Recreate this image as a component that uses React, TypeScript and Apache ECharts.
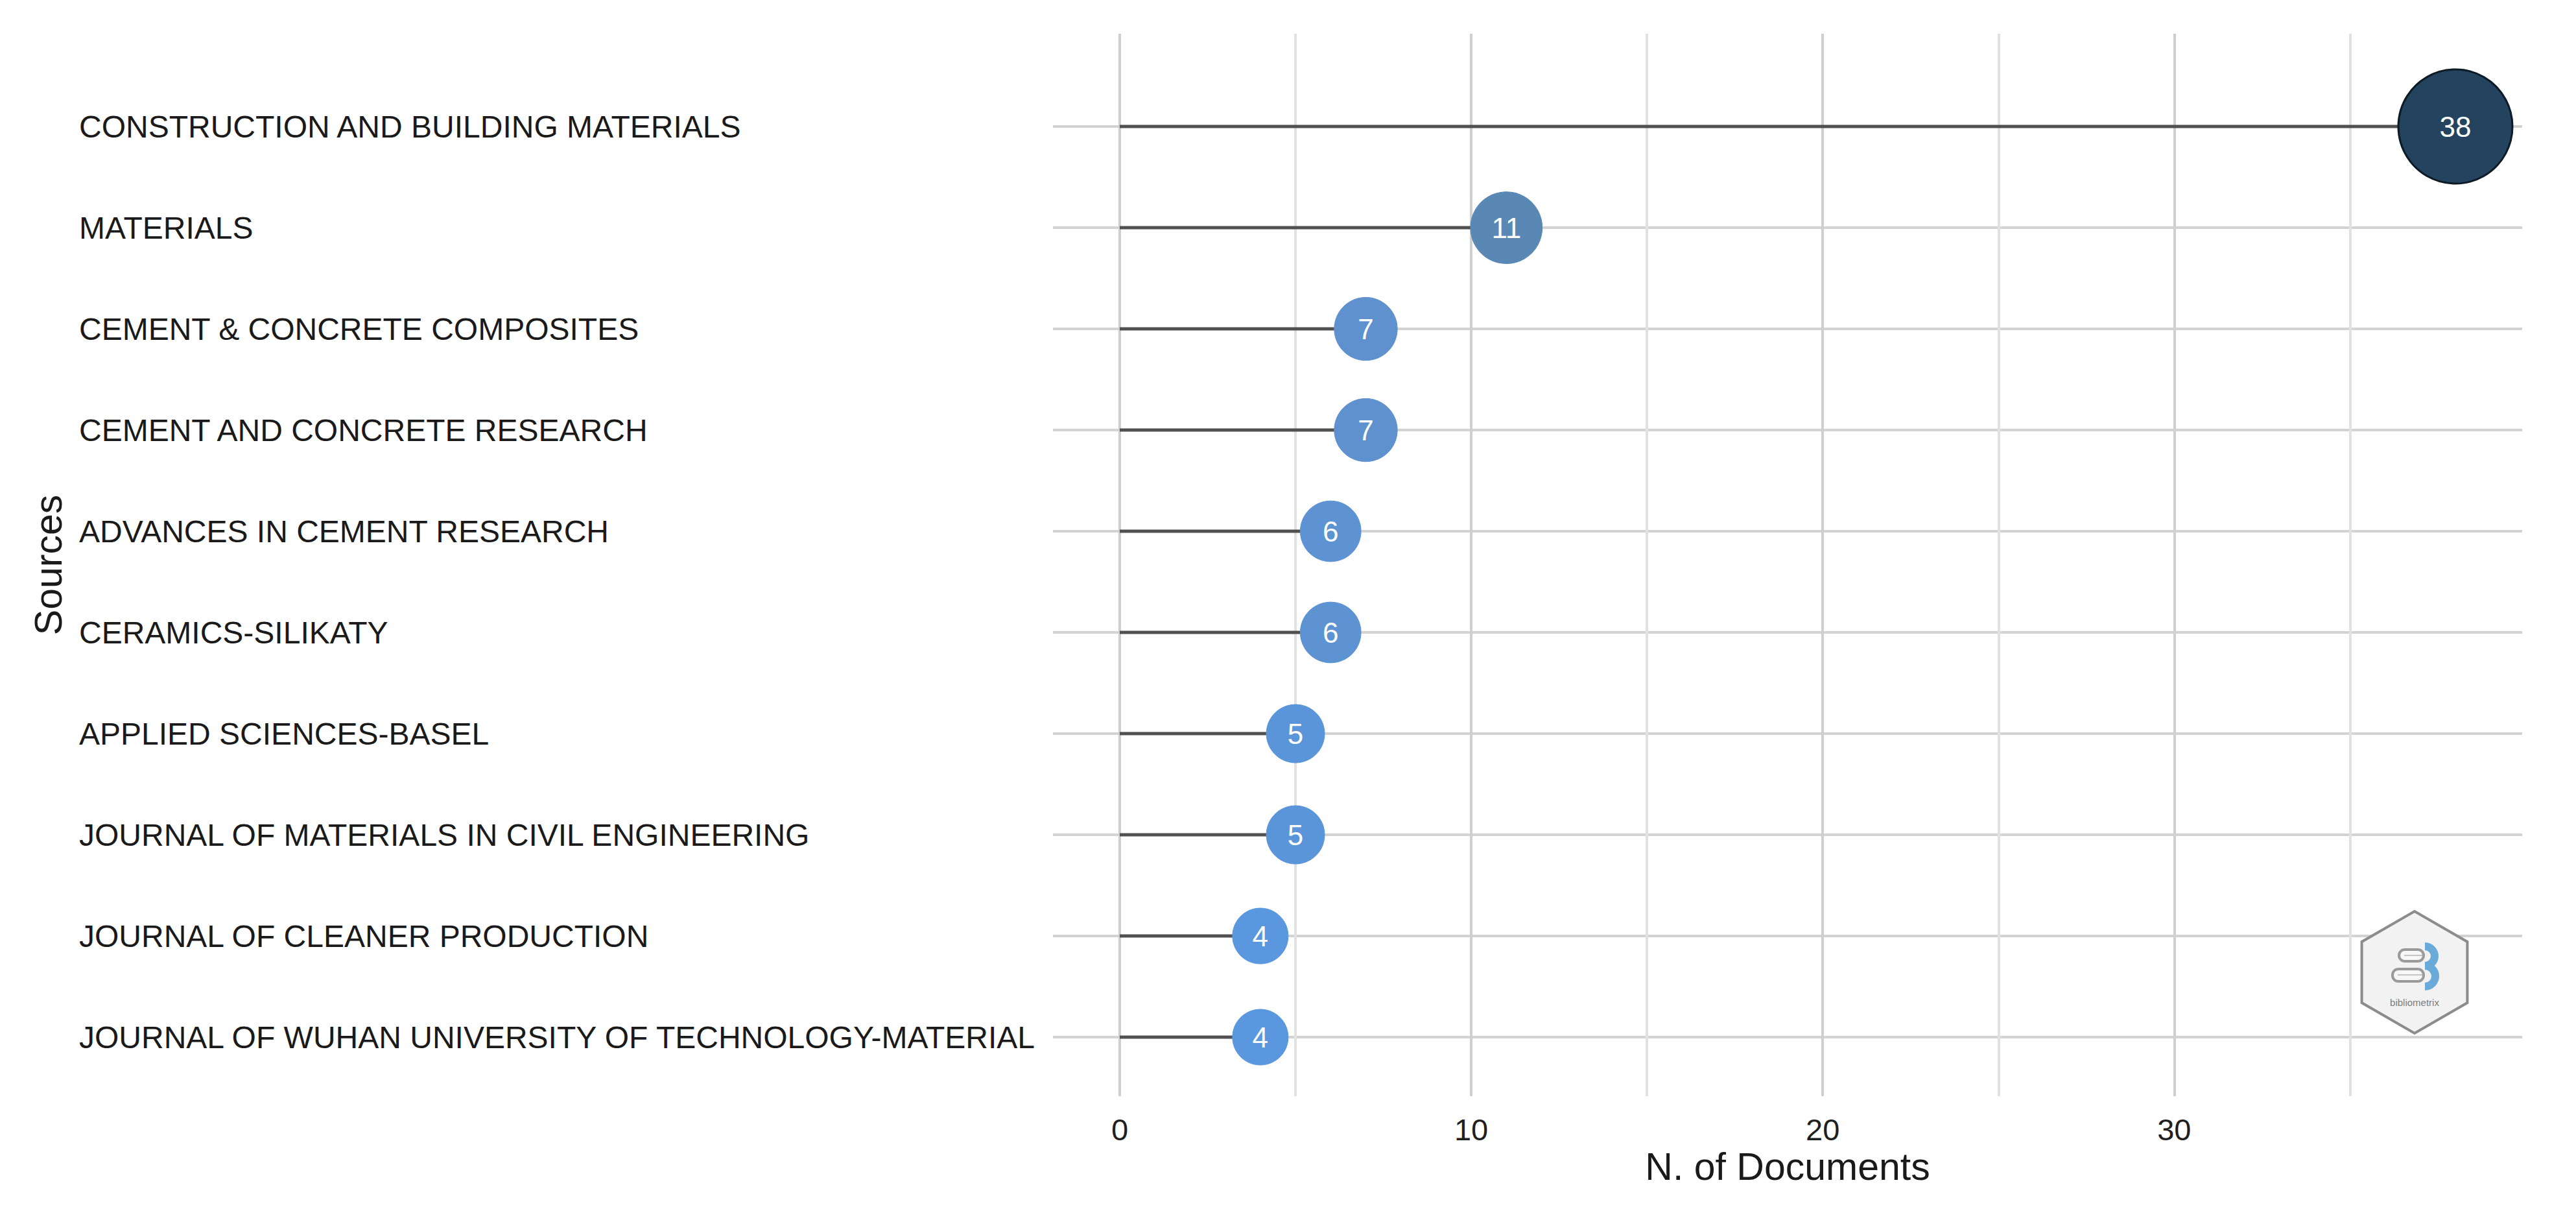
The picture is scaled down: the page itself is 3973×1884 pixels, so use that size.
import React, { useEffect, useRef } from "react";
import * as echarts from "echarts";

const categories = [
  "CONSTRUCTION AND BUILDING MATERIALS",
  "MATERIALS",
  "CEMENT & CONCRETE COMPOSITES",
  "CEMENT AND CONCRETE RESEARCH",
  "ADVANCES IN CEMENT RESEARCH",
  "CERAMICS-SILIKATY",
  "APPLIED SCIENCES-BASEL",
  "JOURNAL OF MATERIALS IN CIVIL ENGINEERING",
  "JOURNAL OF CLEANER PRODUCTION",
  "JOURNAL OF WUHAN UNIVERSITY OF TECHNOLOGY-MATERIAL",
];
const documents = [38, 11, 7, 7, 6, 6, 5, 5, 4, 4];
const xTickLabels = [0, 10, 20, 30];
const xGridValues = [0, 5, 10, 15, 20, 25, 30, 35];

const colorStops: [number, number[]][] = [
  [4, [0x5a, 0x97, 0xde]],
  [7, [0x5e, 0x91, 0xce]],
  [11, [0x5a, 0x88, 0xb5]],
  [38, [0x23, 0x43, 0x5e]],
];
function colorFor(v: number): string {
  let a = colorStops[0], b = colorStops[colorStops.length - 1];
  for (let i = 0; i < colorStops.length - 1; i++) {
    if (v >= colorStops[i][0] && v <= colorStops[i + 1][0]) {
      a = colorStops[i];
      b = colorStops[i + 1];
      break;
    }
  }
  const t = b[0] === a[0] ? 0 : (v - a[0]) / (b[0] - a[0]);
  const c = a[1].map((x, k) => Math.round(x + (b[1][k] - x) * t));
  return `rgb(${c[0]},${c[1]},${c[2]})`;
}
function sizeFor(v: number): number {
  return 2 * Math.sqrt(1849 + 173.4 * (v - 4));
}

const FONT = "Liberation Sans, Arial, sans-serif";

export default function App() {
  const ref = useRef<HTMLDivElement>(null);
  useEffect(() => {
    if (!ref.current) return;
    const chart = echarts.init(ref.current, null, { renderer: "svg" });
    const maxV = Math.max(...documents);
    const cx = 3724, cy = 1499, R = 94;
    const hex = [0, 1, 2, 3, 4, 5].map((k) => {
      const ang = (Math.PI / 3) * k - Math.PI / 2;
      return [cx + R * Math.cos(ang), cy + R * Math.sin(ang)];
    });
    chart.setOption({
      animation: false,
      backgroundColor: "#ffffff",
      textStyle: { fontFamily: FONT },
      grid: { left: 1624, right: 83, top: 52, bottom: 194, containLabel: false },
      xAxis: {
        type: "value",
        min: -1.9,
        max: 39.9,
        axisLine: { show: false },
        axisTick: { show: false, customValues: xGridValues },
        axisLabel: {
          customValues: xTickLabels,
          fontSize: 47,
          color: "#1f1f1f",
          margin: 28,
          fontFamily: FONT,
        },
        splitLine: { show: true, lineStyle: { color: ["#CFCFCF", "#E1E1E1"], width: 4 } },
        name: "N. of Documents",
        nameLocation: "middle",
        nameGap: 78,
        nameTextStyle: { fontSize: 59, color: "#1a1a1a", fontFamily: FONT },
      },
      yAxis: {
        type: "value",
        inverse: true,
        min: -0.917,
        max: 9.583,
        axisLine: { show: false },
        axisTick: { show: false, customValues: categories.map((_, i) => i) },
        axisLabel: {
          customValues: categories.map((_, i) => i),
          formatter: (v: number) => categories[Math.round(v)] ?? "",
          align: "left",
          margin: 1502,
          fontSize: 48,
          color: "#1a1a1a",
          fontFamily: FONT,
        },
        splitLine: { show: true, lineStyle: { color: "#D3D3D3", width: 4 } },
        name: "Sources",
        nameLocation: "middle",
        nameGap: 1520,
        nameTextStyle: { fontSize: 59, color: "#1a1a1a", fontFamily: FONT },
      },
      series: [
        {
          type: "custom",
          z: 2,
          data: documents.map((v, i) => [v, i]),
          encode: { x: 0, y: 1 },
          renderItem: (_p: any, api: any) => {
            const idx = api.value(1);
            const v = api.value(0);
            const s = api.coord([0, idx]);
            const e = api.coord([v, idx]);
            return {
              type: "line",
              shape: { x1: s[0], y1: s[1], x2: e[0], y2: e[1] },
              style: { stroke: "#505050", lineWidth: 5 },
            };
          },
        },
        {
          type: "scatter",
          z: 3,
          data: documents.map((v, i) => ({
            value: [v, i],
            itemStyle: {
              color: colorFor(v),
              opacity: 1,
              borderColor: v === maxV ? "#0d1b27" : colorFor(v),
              borderWidth: v === maxV ? 3 : 1,
            },
          })),
          itemStyle: { opacity: 1 },
          symbol: "circle",
          symbolSize: (val: number[]) => sizeFor(val[0]),
          label: {
            show: true,
            position: "inside",
            formatter: (p: any) => String(p.value[0]),
            color: "#ffffff",
            fontSize: 44,
            fontFamily: FONT,
          },
        },
      ],
      graphic: [
        {
          type: "polygon",
          z: 10,
          shape: { points: hex },
          style: { fill: "#F2F2F2", stroke: "#8C8C8C", lineWidth: 4 },
        },
        {
          type: "rect",
          z: 11,
          shape: { x: 3700, y: 1464, width: 38, height: 18, r: 9 },
          style: { fill: "#F7F7F7", stroke: "#9A9A9A", lineWidth: 4 },
        },
        {
          type: "rect",
          z: 11,
          shape: { x: 3690, y: 1494, width: 48, height: 19, r: 9 },
          style: { fill: "#F7F7F7", stroke: "#9A9A9A", lineWidth: 4 },
        },
        {
          type: "line",
          z: 12,
          shape: { x1: 3708, y1: 1473, x2: 3736, y2: 1473 },
          style: { stroke: "#C4C4C4", lineWidth: 2 },
        },
        {
          type: "line",
          z: 12,
          shape: { x1: 3698, y1: 1503, x2: 3736, y2: 1503 },
          style: { stroke: "#C4C4C4", lineWidth: 2 },
        },
        {
          type: "arc",
          z: 12,
          shape: { cx: 3740, cy: 1474, r: 15, startAngle: -Math.PI / 2, endAngle: Math.PI / 2, clockwise: true },
          style: { stroke: "#6AAAD8", lineWidth: 12, fill: "none" },
        },
        {
          type: "arc",
          z: 12,
          shape: { cx: 3740, cy: 1505, r: 16, startAngle: -Math.PI / 2, endAngle: Math.PI / 2, clockwise: true },
          style: { stroke: "#6AAAD8", lineWidth: 12, fill: "none" },
        },
        {
          type: "text",
          z: 12,
          style: {
            x: 3724,
            y: 1545,
            text: "bibliometrix",
            fill: "#7C7C7C",
            fontSize: 15,
            fontFamily: FONT,
            align: "center",
            verticalAlign: "middle",
          },
        },
      ],
    });
    return () => chart.dispose();
  }, []);
  return (
    <div
      ref={ref}
      style={{ position: "fixed", left: 0, top: 0, width: 3973, height: 1884, background: "#fff" }}
    />
  );
}
